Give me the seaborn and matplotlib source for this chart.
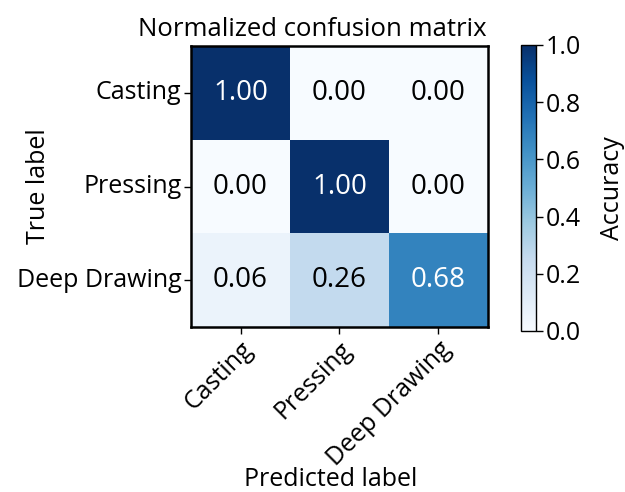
import numpy as np
import pandas as pd
import matplotlib
matplotlib.use("Agg")
import matplotlib.pyplot as plt
import seaborn as sns

classes = ["Casting", "Pressing", "Deep Drawing"]
row_casting = [1.00, 0.00, 0.00]
row_pressing = [0.00, 1.00, 0.00]
row_deep = [0.06, 0.26, 0.68]

cm = pd.DataFrame([row_casting, row_pressing, row_deep], index=classes, columns=classes)

sns.set_style("white")
plt.rcParams["font.family"] = ["Open Sans", "DejaVu Sans"]
plt.rcParams["text.color"] = "black"
plt.rcParams["axes.labelcolor"] = "black"
plt.rcParams["xtick.color"] = "black"
plt.rcParams["ytick.color"] = "black"

fig = plt.figure(figsize=(6.25, 4.92), dpi=100)
ax = fig.add_axes([191 / 625, 1 - 327 / 492, 297 / 625, 281 / 492])
cax = fig.add_axes([521 / 625, 1 - 331 / 492, 15 / 625, 286 / 492])

sns.heatmap(cm, ax=ax, cbar_ax=cax, cmap="Blues", vmin=0, vmax=1,
            annot=False, square=False, linewidths=0)

for i in range(cm.shape[0]):
    for j in range(cm.shape[1]):
        v = cm.iloc[i, j]
        ax.text(j + 0.5, i + 0.5, f"{v:.2f}", ha="center", va="center",
                fontsize=20, color="white" if v > 0.5 else "black")

for s in ax.spines.values():
    s.set_visible(True)
    s.set_linewidth(1.8)
    s.set_color("black")

ax.set_title("Normalized confusion matrix", fontsize=18.5, pad=7, x=0.41)
ax.set_ylabel("True label", fontsize=18)
ax.set_xlabel("Predicted label", fontsize=18)
ax.yaxis.set_label_coords(-0.47, 0.5)
ax.xaxis.set_label_coords(0.47, -0.5)
ax.tick_params(axis="both", which="both", length=5, width=1, color="black",
               labelsize=18, left=True, bottom=True, pad=2)
ax.set_xticklabels(classes, rotation=45, ha="right", rotation_mode="anchor")
ax.set_yticklabels(classes, rotation=0)

cbar = ax.collections[0].colorbar
cbar.set_ticks([0.0, 0.2, 0.4, 0.6, 0.8, 1.0])
cbar.ax.tick_params(labelsize=18, length=5, width=1, right=True, pad=2)
cbar.outline.set_visible(True)
cbar.outline.set_edgecolor("black")
cbar.outline.set_linewidth(1)
cbar.set_label("Accuracy", fontsize=18, labelpad=14)

fig.savefig("out.png", dpi=100)
